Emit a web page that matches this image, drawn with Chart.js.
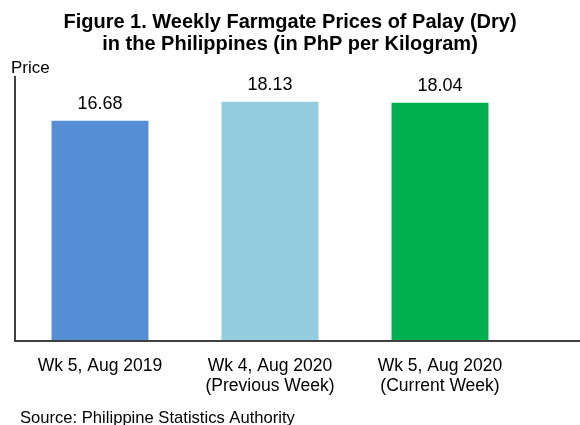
<!DOCTYPE html>
<html>
<head>
<meta charset="utf-8">
<script src="https://cdn.jsdelivr.net/npm/chart.js@4"></script>
<style>
  html, body { margin: 0; padding: 0; background: #fff; }
  #wrap { width: 580px; height: 425px; position: relative; }
</style>
</head>
<body>
<div id="wrap"><canvas id="chart" width="580" height="425"></canvas></div>
<script>
// Palay (dry) farmgate prices, PhP per kg
const categories = [
  ['Wk 5, Aug 2019'],
  ['Wk 4, Aug 2020', '(Previous Week)'],
  ['Wk 5, Aug 2020', '(Current Week)']
];
const prices = [16.68, 18.13, 18.04];
const barColors = ['#558ED5', '#93CDDD', '#00B050'];
const titleLines = [
  'Figure 1. Weekly Farmgate Prices of Palay (Dry)',
  'in the Philippines (in PhP per Kilogram)'
];
const axisLabel = 'Price';
const sourceNote = 'Source: Philippine Statistics Authority';

const FONT = '"Liberation Sans", Arial, sans-serif';

// title, value labels above bars, axis caption, source line, extended baseline
const extrasPlugin = {
  id: 'extras',
  afterDatasetsDraw(chart) {
    const ctx = chart.ctx;
    const meta = chart.getDatasetMeta(0);
    ctx.save();
    ctx.fillStyle = '#000';
    ctx.textBaseline = 'alphabetic';

    // title centred over the whole picture, not the plot
    ctx.font = 'bold 20px ' + FONT;
    ctx.textAlign = 'center';
    ctx.fillText(titleLines[0], 290, 28);
    ctx.fillText(titleLines[1], 290, 50);

    ctx.font = '18px ' + FONT;
    meta.data.forEach((bar, i) => {
      ctx.fillText(prices[i].toFixed(2), bar.x, bar.y - 12);
    });

    ctx.font = '17px ' + FONT;
    ctx.textAlign = 'left';
    ctx.fillText(axisLabel, 11, 73);
    ctx.font = '16.6px ' + FONT;
    ctx.fillText(sourceNote, 20, 423);

    // baseline runs out to the right edge
    const area = chart.chartArea;
    ctx.strokeStyle = '#404040';
    ctx.lineWidth = 2;
    ctx.beginPath();
    ctx.moveTo(area.left, area.bottom);
    ctx.lineTo(chart.width, area.bottom);
    ctx.stroke();
    ctx.restore();
  }
};

new Chart(document.getElementById('chart'), {
  type: 'bar',
  data: {
    labels: categories,
    datasets: [{
      data: prices,
      backgroundColor: barColors,
      borderWidth: 0,
      barPercentage: 0.57,
      categoryPercentage: 1
    }]
  },
  plugins: [extrasPlugin],
  options: {
    responsive: false,
    animation: false,
    layout: { padding: { left: 0, right: 55, top: 77, bottom: 0 } },
    plugins: {
      legend: { display: false },
      tooltip: { enabled: false },
      title: { display: false }
    },
    scales: {
      x: {
        grid: { display: false, drawTicks: false },
        border: { display: true, color: '#404040', width: 2 },
        ticks: {
          color: '#000',
          font: { family: FONT, size: 17.5, lineHeight: 1.16 },
          padding: 15,
          maxRotation: 0,
          autoSkip: false
        },
        afterFit(scale) { scale.height = 84; }
      },
      y: {
        min: 0,
        max: 20,
        grid: { display: false, drawTicks: false },
        border: { display: true, color: '#404040', width: 2 },
        ticks: { display: false },
        afterFit(scale) { scale.width = 15; }
      }
    }
  }
});
</script>
</body>
</html>
